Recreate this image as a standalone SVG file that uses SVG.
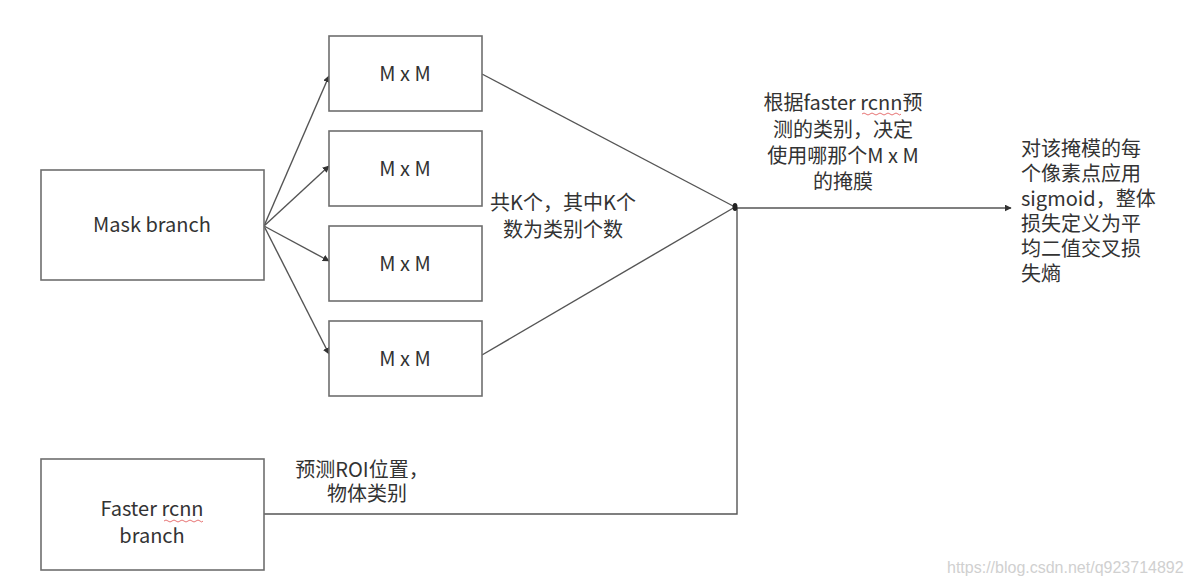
<svg xmlns="http://www.w3.org/2000/svg" width="1191" height="586" viewBox="0 0 1191 586">
<style>
.box{fill:#fff;stroke:#6e6e6e;stroke-width:1.6}
.ln{fill:none;stroke:#555;stroke-width:1.4}
.t{font-family:"Noto Sans CJK SC","Noto Sans",sans-serif;font-size:20px;fill:#333}
.c{text-anchor:middle}
.wv{fill:none;stroke:#e05050;stroke-width:0.8}
.wm{font-family:"Liberation Sans",Arial,sans-serif;font-size:16px;fill:#d0d0d0}
</style>
<defs>
<marker id="ah" viewBox="0 0 10 10" refX="9" refY="5" markerWidth="7" markerHeight="7" markerUnits="userSpaceOnUse" orient="auto">
<path d="M0,0 L10,5 L0,10 z" fill="#333"/>
</marker>
</defs>
<rect width="1191" height="586" fill="#fff"/>
<g id="connectors">
<line class="ln" x1="264" y1="226" x2="329" y2="76" marker-end="url(#ah)"/>
<line class="ln" x1="264" y1="226" x2="329" y2="166" marker-end="url(#ah)"/>
<line class="ln" x1="264" y1="226" x2="329" y2="261" marker-end="url(#ah)"/>
<line class="ln" x1="264" y1="226" x2="329" y2="354" marker-end="url(#ah)"/>
<line class="ln" x1="482" y1="74" x2="735" y2="207"/>
<line class="ln" x1="482" y1="355" x2="735" y2="207"/>
<line class="ln" x1="735" y1="208" x2="1011" y2="208" marker-end="url(#ah)"/>
<polyline class="ln" points="264,514 737,514 737,208"/>
<ellipse cx="735" cy="207" rx="2.5" ry="4" fill="#222"/>
</g>
<g id="mask-branch">
<rect class="box" x="41" y="170" width="223" height="110"/>
<text class="t c" x="152" y="232">Mask branch</text>
</g>
<g id="mxm-1">
<rect class="box" x="329" y="36" width="153" height="75"/>
<text class="t c" x="405" y="81">M x M</text>
</g>
<g id="mxm-2">
<rect class="box" x="329" y="131" width="153" height="75"/>
<text class="t c" x="405" y="176">M x M</text>
</g>
<g id="mxm-3">
<rect class="box" x="329" y="226" width="153" height="75"/>
<text class="t c" x="405" y="271">M x M</text>
</g>
<g id="mxm-4">
<rect class="box" x="329" y="321" width="153" height="75"/>
<text class="t c" x="405" y="366">M x M</text>
</g>
<g id="faster-branch">
<rect class="box" x="41" y="459" width="223" height="111"/>
<text class="t c" x="152" y="516">Faster rcnn</text>
<text class="t c" x="152" y="543">branch</text>
<path class="wv" d="M164,521 q2,-2 4,0 t4,0 t4,0 t4,0 t4,0 t4,0 t4,0 t4,0 t4,0 t3,0"/>
</g>
<g id="label-k">
<text class="t c" x="563" y="210">共K个，其中K个</text>
<text class="t c" x="563" y="237">数为类别个数</text>
</g>
<g id="label-select">
<text class="t c" x="843" y="110">根据faster rcnn预</text>
<text class="t c" x="843" y="137">测的类别，决定</text>
<text class="t c" x="843" y="163">使用哪那个M x M</text>
<text class="t c" x="843" y="189">的掩膜</text>
<path class="wv" d="M862,114 q2,-2 4,0 t4,0 t4,0 t4,0 t4,0 t4,0 t4,0 t4,0 t4,0 t3,0"/>
</g>
<g id="label-sigmoid">
<text class="t" x="1021" y="156">对该掩模的每</text>
<text class="t" x="1021" y="181">个像素点应用</text>
<text class="t" x="1021" y="206">sigmoid，整体</text>
<text class="t" x="1021" y="231">损失定义为平</text>
<text class="t" x="1021" y="256">均二值交叉损</text>
<text class="t" x="1021" y="281">失熵</text>
</g>
<g id="label-roi">
<text class="t c" x="362" y="477">预测ROI位置，</text>
<text class="t c" x="367" y="501">物体类别</text>
</g>
<text class="wm" x="947" y="573">https://blog.csdn.net/q923714892</text>
</svg>
